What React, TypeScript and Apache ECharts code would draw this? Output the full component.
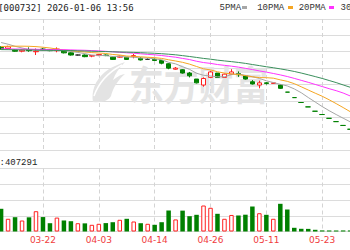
import React, { useEffect, useRef } from "react";
import * as echarts from "echarts";

const dates = ["03-13","03-14","03-16","03-17","03-19","03-20","03-22","03-24","03-25","03-27","03-28","03-30","03-31","04-02","04-03","04-05","04-06","04-08","04-09","04-10","04-12","04-13","04-14","04-16","04-17","04-19","04-20","04-22","04-23","04-25","04-26","04-28","04-30","05-02","05-04","05-05","05-07","05-09","05-11","05-12","05-14","05-15","05-17","05-18","05-20","05-21","05-23","05-24","05-26","05-27","05-29"];

const opens = [2.78,2.76,2.73,2.71,2.74,2.70,2.75,2.74,2.72,2.71, 2.68,2.64,2.64,2.62,2.63,2.64,2.60,2.60,2.60,2.61, 2.58,2.56,2.56,2.54,2.48,2.38,2.37,2.31,2.20,2.09, 2.23,2.31,2.23,2.29,2.30,2.26,2.15,2.09,2.13,2.12, 2.09,1.96,1.86,1.77,1.69,1.61,1.55,1.48,1.42,1.35,1.28];
const closes = [2.75,2.79,2.71,2.73,2.72,2.71,2.74,2.72,2.75,2.68, 2.64,2.64,2.61,2.63,2.65,2.63,2.56,2.62,2.56,2.63, 2.55,2.56,2.54,2.49,2.40,2.40,2.31,2.26,2.13,2.21, 2.33,2.23,2.29,2.33,2.28,2.20,2.11,2.13,2.12,2.13, 2.03,1.96,1.86,1.77,1.69,1.61,1.55,1.48,1.42,1.35,1.28];
const lows = [2.74,2.75,2.70,2.69,2.70,2.64,2.72,2.71,2.69,2.67, 2.63,2.63,2.60,2.60,2.62,2.62,2.55,2.59,2.55,2.58, 2.54,2.55,2.53,2.47,2.38,2.37,2.30,2.23,2.12,2.06, 2.22,2.23,2.23,2.28,2.24,2.19,2.10,2.03,2.10,2.12, 2.02,1.96,1.86,1.77,1.69,1.61,1.55,1.48,1.42,1.35,1.28];
const highs = [2.80,2.81,2.74,2.74,2.78,2.76,2.77,2.75,2.78,2.72, 2.69,2.65,2.65,2.64,2.66,2.65,2.61,2.63,2.60,2.66, 2.60,2.58,2.58,2.55,2.49,2.42,2.38,2.33,2.20,2.23, 2.35,2.31,2.30,2.38,2.34,2.27,2.18,2.17,2.14,2.13, 2.10,1.96,1.86,1.77,1.69,1.61,1.55,1.48,1.42,1.35,1.28];

const volumes = [8650000,4840000,5450000,4190000,5400000,7730000,5500000,3160000,5300000,4200000, 3920000,3160000,3100000,2550000,2930000,3200000,3540000,4460000,4840000,3810000, 3160000,2930000,2550000,3540000,8000000,4600000,7950000,5830000,6360000,9900000, 9030000,6740000,4840000,6300000,6100000,6400000,9520000,6970000,6360000,4840000, 10550000,8380000,1410000,1030000,1000000,650000,420000,400000,390000,410000,407291];

const ma5 = [2.869,2.838,2.800,2.769,2.740,2.733,2.723,2.725,2.729,2.721, 2.706,2.687,2.665,2.640,2.633,2.629,2.613,2.616,2.603,2.600, 2.585,2.585,2.569,2.554,2.507,2.478,2.426,2.377,2.306,2.269, 2.256,2.241,2.241,2.281,2.295,2.267,2.243,2.211,2.168,2.136, 2.103,2.074,2.019,1.949,1.862,1.779,1.696,1.620,1.550,1.483,1.417];
const ma10 = [2.796,2.800,2.802,2.802,2.800,2.794,2.783,2.769,2.750,2.731, 2.720,2.705,2.695,2.685,2.677,2.668,2.650,2.640,2.621,2.616, 2.607,2.599,2.592,2.578,2.553,2.531,2.506,2.473,2.430,2.388, 2.367,2.334,2.309,2.294,2.282,2.262,2.242,2.226,2.225,2.216, 2.185,2.158,2.115,2.058,1.999,1.941,1.885,1.820,1.750,1.678,1.603];
const ma20 = [2.754,2.752,2.750,2.749,2.747,2.745,2.743,2.741,2.739,2.738, 2.734,2.730,2.727,2.721,2.716,2.708,2.699,2.690,2.681,2.673, 2.663,2.652,2.644,2.631,2.615,2.600,2.578,2.557,2.526,2.502, 2.487,2.466,2.451,2.436,2.418,2.396,2.374,2.349,2.327,2.302, 2.276,2.246,2.212,2.176,2.140,2.101,2.063,2.023,1.987,1.944,1.891];
const ma30 = [2.739,2.738,2.736,2.734,2.732,2.730,2.728,2.727,2.725,2.723, 2.721,2.717,2.714,2.710,2.706,2.703,2.699,2.695,2.692,2.688, 2.683,2.677,2.672,2.664,2.655,2.644,2.629,2.613,2.596,2.578, 2.564,2.546,2.532,2.519,2.504,2.487,2.466,2.446,2.425,2.407, 2.386,2.364,2.339,2.310,2.278,2.245,2.211,2.173,2.135,2.092,2.050];

const dojiDark = [11, 21];
const labelStart = 6;
const labelStep = 8;
const titleText = "[000732] 2026-01-06 13:56";
const legendNames = ["5PMA", "10PMA", "20PMA", "30PMA"];
const volumeText = ":407291";

const OX = 10;
const UP = "#ff2020";
const DOWN = "#008000";
const maColors = ["#a6a6a6", "#f5a623", "#ff33ff", "#3a8f5c"];

const logoPath =
  "M2 40 C0 30 4 18 14 10 C20 5 28 2 34 0 C28 6 24 12 22 18 C27 14 31 12 34 12 C27 18 22 26 20 34 C18 38 12 41 2 40 Z";

export default function App() {
  const ref = useRef<HTMLDivElement>(null);

  useEffect(() => {
    try {
      echarts.graphic.registerShape("emLogo", echarts.graphic.extendPath(logoPath, {}));
    } catch (e) {}
    const chart = echarts.init(ref.current!, null, { renderer: "svg" });

    const showIdx = (idx: number) => idx >= labelStart && (idx - labelStart) % labelStep === 0;

    const candleData = dates.map((_, i) => {
      const v = [opens[i], closes[i], lows[i], highs[i]];
      if (dojiDark.includes(i)) {
        return {
          value: v,
          itemStyle: { color: "#333", color0: "#333", borderColor: "#333", borderColor0: "#333", borderColorDoji: "#333" },
        };
      }
      return v;
    });

    const volData = volumes.map((v, i) => {
      let up: boolean;
      if (closes[i] > opens[i]) up = true;
      else if (closes[i] < opens[i]) up = false;
      else up = i === 0 ? true : closes[i] >= closes[i - 1];
      return {
        value: v,
        itemStyle: up
          ? { color: "#fff", borderColor: UP, borderWidth: 1 }
          : { color: DOWN, borderColor: DOWN, borderWidth: 0 },
      };
    });

    const splitX = {
      show: true,
      interval: (idx: number) => showIdx(idx),
      alignWithLabel: true,
      lineStyle: { color: "#d4d4d4", type: [4, 3], width: 1 },
    };

    const legendX = [219.5, 257.2, 298.7, 340.5];
    const iconX = [242, 288, 329, 380];

    const graphics: any[] = [
      {
        type: "emLogo",
        x: 91 + OX,
        y: 62,
        z: 1,
        silent: true,
        style: { fill: "#e3e3e3" },
      },
      {
        type: "bezierCurve",
        x: 91 + OX,
        y: 62,
        z: 1,
        silent: true,
        shape: { x1: 3, y1: 34, x2: 31, y2: 3, cpx1: 10, cpy1: 14 },
        style: { stroke: "#fff", lineWidth: 1.5, fill: null },
      },
      {
        type: "text",
        x: 129 + OX,
        y: 83,
        scaleX: 0.87,
        z: 1,
        silent: true,
        style: {
          text: "东方财富",
          fontSize: 40,
          fontWeight: "bold",
          fontFamily: "Noto Sans CJK SC",
          fill: "#e4e4e4",
          verticalAlign: "middle",
          align: "left",
        },
      },
      {
        type: "text",
        x: -1.8 + OX,
        y: 8,
        style: {
          text: titleText,
          fontSize: 9,
          fontFamily: "DejaVu Sans Mono",
          fill: "#222",
          verticalAlign: "middle",
          align: "left",
        },
      },
      {
        type: "text",
        x: -0.5 + OX,
        y: 162.7,
        style: {
          text: volumeText,
          fontSize: 9,
          fontFamily: "Liberation Mono",
          fill: "#222",
          verticalAlign: "middle",
          align: "left",
        },
      },
    ];
    legendNames.forEach((name, k) => {
      graphics.push({
        type: "text",
        x: legendX[k] + OX,
        y: 7.5,
        style: {
          text: name,
          fontSize: 9,
          fontFamily: "Liberation Mono",
          fill: "#333",
          verticalAlign: "middle",
          align: "left",
        },
      });
      graphics.push({
        type: "rect",
        x: iconX[k] + OX,
        y: 6,
        shape: { width: 5, height: 3 },
        style: { fill: maColors[k] },
      });
    });

    const maSeries = [ma5, ma10, ma20, ma30].map((d, k) => ({
      name: legendNames[k],
      type: "line",
      xAxisIndex: 0,
      yAxisIndex: 0,
      data: d,
      symbol: "none",
      smooth: false,
      z: 3,
      lineStyle: { color: maColors[k], width: 1 },
      itemStyle: { color: maColors[k] },
    }));

    chart.setOption({
      animation: false,
      backgroundColor: "#fff",
      grid: [
        { left: 7.6, width: 356, top: 19, height: 131 },
        { left: 7.6, width: 356, top: 168.5, height: 63 },
      ],
      xAxis: [
        {
          type: "category",
          gridIndex: 0,
          data: dates,
          boundaryGap: true,
          axisLine: { show: false },
          axisTick: { show: false, alignWithLabel: true },
          axisLabel: { show: false },
          splitLine: splitX,
        },
        {
          type: "category",
          gridIndex: 1,
          data: dates,
          boundaryGap: true,
          axisLine: { show: false },
          axisTick: { show: false, alignWithLabel: true },
          axisLabel: {
            show: true,
            interval: (idx: number) => showIdx(idx),
            color: "#f03c3c",
            fontSize: 9,
            fontFamily: "DejaVu Sans",
            margin: 4,
          },
          splitLine: splitX,
        },
      ],
      yAxis: [
        {
          type: "value",
          gridIndex: 0,
          min: 0.9,
          max: 3.3,
          interval: 0.3,
          axisLine: { show: false },
          axisTick: { show: false },
          axisLabel: { show: false },
          splitLine: { show: true, lineStyle: { color: "#dcdcdc", width: 1 } },
        },
        {
          type: "value",
          gridIndex: 1,
          min: 0,
          max: 24000000,
          interval: 6000000,
          axisLine: { show: false },
          axisTick: { show: false },
          axisLabel: { show: false },
          splitLine: { show: true, lineStyle: { color: "#dcdcdc", width: 1 } },
        },
      ],
      series: [
        {
          type: "candlestick",
          xAxisIndex: 0,
          yAxisIndex: 0,
          data: candleData,
          barWidth: 5,
          z: 2,
          itemStyle: {
            color: "#fff",
            color0: DOWN,
            borderColor: UP,
            borderColor0: DOWN,
            borderWidth: 1,
          },
        },
        ...maSeries,
        {
          type: "bar",
          xAxisIndex: 1,
          yAxisIndex: 1,
          data: volData,
          barWidth: 4.5,
        },
      ],
      graphic: { elements: graphics },
    });

    return () => chart.dispose();
  }, []);

  return (
    <div
      style={{
        position: "fixed",
        left: 0,
        top: 0,
        width: 350,
        height: 250,
        overflow: "hidden",
        background: "#fff",
      }}
    >
      <div ref={ref} style={{ position: "absolute", left: -OX, top: 0, width: 370, height: 250 }} />
    </div>
  );
}
